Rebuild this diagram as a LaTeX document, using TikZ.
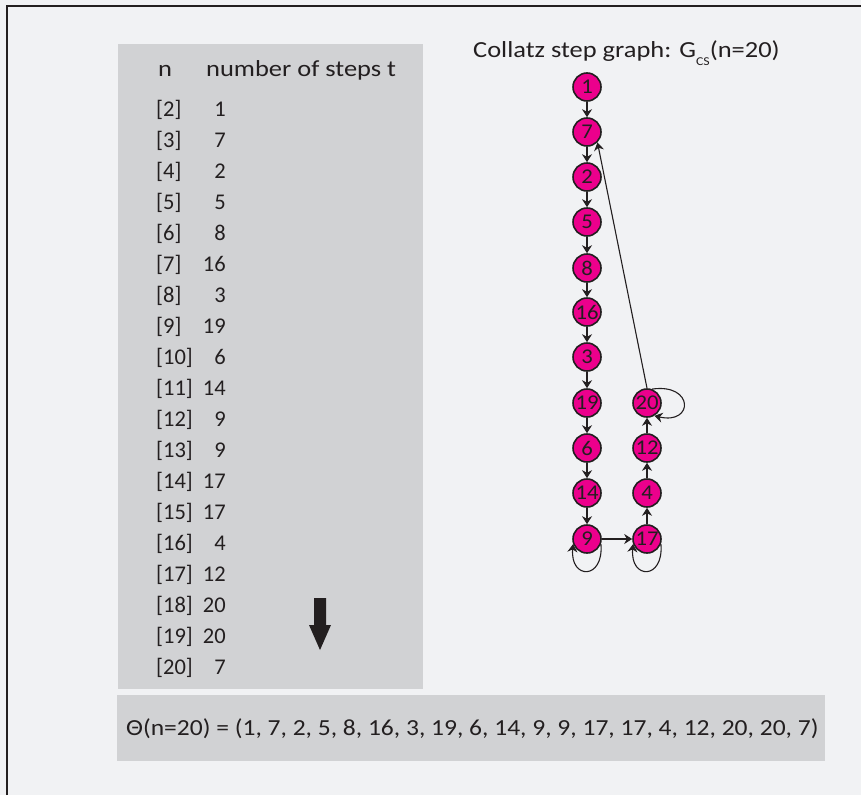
\documentclass[tikz,border=0pt]{standalone}
\usepackage{fontspec}
\setmainfont{Carlito}
\newfontfamily\widetab[FakeStretch=1.15]{Carlito}
\newfontfamily\widebot[FakeStretch=1.11]{Carlito}
\newfontfamily\widenode[FakeStretch=1.08]{Carlito}
\usetikzlibrary{arrows.meta}
\definecolor{bg}{HTML}{F1F2F4}
\definecolor{panel}{HTML}{D1D2D4}
\definecolor{ink}{HTML}{231F20}
\definecolor{mag}{HTML}{EC008C}
\begin{document}
\begin{tikzpicture}[x=1pt,y=-1pt,
 vtx/.style={circle,draw=ink,line width=1.6pt,fill=mag,minimum size=28pt,inner sep=0pt,font=\widenode\fontsize{21}{21}\selectfont,text=ink},
 edge/.style={-{Stealth[length=8pt,width=10pt]},line width=1.1pt,draw=ink},
 tab/.style={anchor=base west,font=\widetab\fontsize{23}{23}\selectfont,text=ink,inner sep=0pt},
 row/.style={anchor=base west,font=\fontsize{22.5}{22.5}\selectfont,text=ink,inner sep=0pt},
 val/.style={anchor=base east,font=\fontsize{22.5}{22.5}\selectfont,text=ink,inner sep=0pt},
 bot/.style={anchor=base west,font=\widebot\fontsize{23}{23}\selectfont,text=ink,inner sep=0pt}]
\useasboundingbox (0,0) rectangle (861,795);
\fill[bg] (0,0) rectangle (861,795);
\draw[ink,line width=2.7pt] (7,795) -- (7,6) -- (861,6);
% panels
\fill[panel] (118,44) rectangle (423,689);
\fill[panel] (117,695) rectangle (825,761);
% table
\node[tab] (hn) at (158,76) {n};
\node[tab] (ht) at (206,76) {number of steps t};
\foreach \n/\v [count=\i from 0] in {2/1,3/7,4/2,5/5,6/8,7/16,8/3,9/19,10/6,11/14,12/9,13/9,14/17,15/17,16/4,17/12,18/20,19/20,20/7}{
  \node[row] (r\n) at (156,116+31*\i) {[\n]};
  \node[val] (v\n) at (226,116+31*\i) {\v};
}
% heavy arrow
\fill[ink] (314,598) -- (326,598) -- (326,625) -- (331,625) -- (320,650) -- (309,625) -- (314,625) -- cycle;
% title
\node[tab] (title) at (473,57.5) {Collatz step graph: G\raisebox{-8pt}{\fontsize{12}{12}\selectfont CS}(n=20)};
% bottom formula
\node[bot] (theta) at (126,735) {Θ(n=20) = (1, 7, 2, 5, 8, 16, 3, 19, 6, 14, 9, 9, 17, 17, 4, 12, 20, 20, 7)};
% graph nodes
\foreach \v/\y in {1/87,7/132,2/177,5/222,8/268,16/312,3/357,19/403,6/448,14/493,9/539}{
  \node[vtx] (n\v) at (587,\y) {\v};
}
\foreach \v/\y in {20/403,12/448,4/493,17/539}{
  \node[vtx] (n\v) at (647,\y) {\v};
}
\foreach \a/\b in {1/7,7/2,2/5,5/8,8/16,16/3,3/19,19/6,6/14,14/9,9/17,17/4,4/12,12/20}{
  \draw[edge] (n\a) -- (n\b);
}
\draw[edge] (n20.north) -- (n7.-45);
\draw[edge] (n9.-20) .. controls (604,580) and (570,580) .. (n9.-160);
\draw[edge] (n17.-20) .. controls (664,580) and (630,580) .. (n17.-160);
\draw[edge] (n20.70) .. controls (694,383) and (694,425) .. (n20.-60);
\end{tikzpicture}
\end{document}
